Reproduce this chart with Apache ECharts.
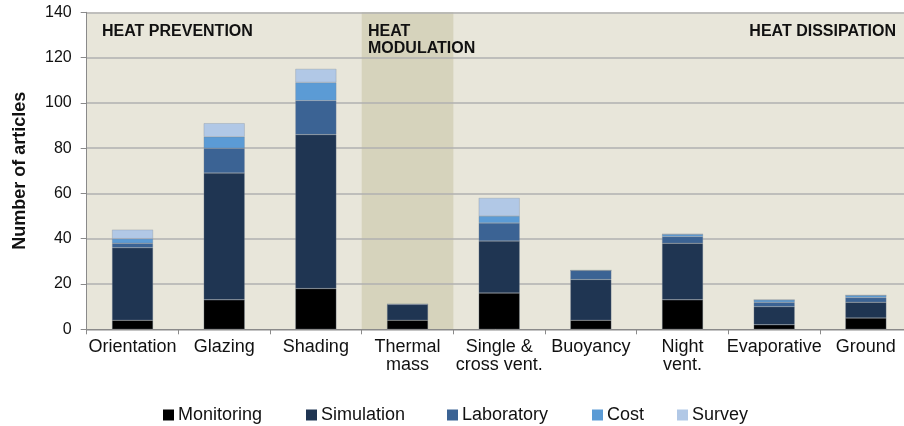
<!DOCTYPE html>
<html>
<head>
<meta charset="utf-8">
<script src="https://cdn.jsdelivr.net/npm/echarts@6/dist/echarts.min.js"></script>
<style>
html,body{margin:0;padding:0;background:#fff;}
#c{width:904px;height:426px;}
</style>
</head>
<body>
<div id="c"></div>
<script>
const categories = ['Orientation','Glazing','Shading','Thermal\nmass','Single &\ncross vent.','Buoyancy','Night\nvent.','Evaporative','Ground'];
const monitoring = [4, 13, 18, 4, 16, 4, 13, 2, 5];
const simulation = [32, 56, 68, 7, 23, 18, 25, 8, 7];
const laboratory = [2, 11, 15, 0, 8, 4, 3, 2, 2];
const cost = [2, 5, 8, 0, 3, 0, 1, 1, 1];
const survey = [4, 6, 6, 0, 8, 0, 0, 0, 0];
const yTicks = [0, 20, 40, 60, 80, 100, 120, 140];
const modulationBand = [null, null, null, 140, null, null, null, null, null];
const groupLabels = ['HEAT PREVENTION', 'HEAT\nMODULATION', 'HEAT DISSIPATION'];
const seriesNames = ['Monitoring', 'Simulation', 'Laboratory', 'Cost', 'Survey'];

const FONT = 'Arial, "Liberation Sans", sans-serif';
const colors = ['#000000', '#1f3552', '#3b6394', '#5b9bd5', '#b1c8e6'];
const seriesData = [monitoring, simulation, laboratory, cost, survey];

const chart = echarts.init(document.getElementById('c'), null, {renderer: 'canvas'});

const legendLefts = [163, 306, 447, 592, 677];
const titleStyle = {fontFamily: FONT, fontSize: 16, fontWeight: 'bold', color: '#111', lineHeight: 17};

const option = {
  backgroundColor: '#ffffff',
  animation: false,
  textStyle: {fontFamily: FONT},
  title: [
    {text: groupLabels[0], left: 102, top: 23, padding: 0, textStyle: titleStyle},
    {text: groupLabels[1], left: 368, top: 23, padding: 0, textStyle: titleStyle},
    {text: groupLabels[2], right: 8, top: 23, padding: 0, textStyle: titleStyle}
  ],
  legend: seriesNames.map((n, i) => ({
    data: [n],
    left: legendLefts[i],
    top: 406,
    padding: 0,
    itemWidth: 11,
    itemHeight: 11,
    icon: 'rect',
    selectedMode: false,
    itemStyle: {borderWidth: 0},
    textStyle: {fontFamily: FONT, fontSize: 18, color: '#111', padding: [0, 0, 0, -1]}
  })),
  grid: {
    left: 86.7, top: 12.3, width: 825, height: 317,
    outerBoundsMode: 'none', containLabel: false,
    show: true, backgroundColor: '#e8e6da', borderWidth: 0, z: 0
  },
  xAxis: [
    {
      type: 'category', data: categories, z: 3,
      axisLine: {lineStyle: {color: '#8a8a8a', width: 1}},
      axisTick: {show: true, length: 5, lineStyle: {color: '#8a8a8a'}},
      axisLabel: {fontFamily: FONT, fontSize: 18, color: '#111', lineHeight: 17.7, margin: 9, interval: 0}
    },
    {
      type: 'category', data: categories, show: false
    }
  ],
  yAxis: {
    type: 'value', min: 0, max: 140, interval: 20, z: 1.5,
    name: 'Number of articles', nameLocation: 'middle', nameGap: 58,
    nameTextStyle: {fontFamily: FONT, fontSize: 18, fontWeight: 'bold', color: '#111'},
    axisLine: {show: true, lineStyle: {color: '#8a8a8a', width: 1}},
    axisTick: {show: true, length: 6, lineStyle: {color: '#8a8a8a'}},
    axisLabel: {fontFamily: FONT, fontSize: 16, color: '#111', margin: 15,
      formatter: v => (yTicks.indexOf(v) >= 0 ? String(v) : '')},
    splitLine: {show: true, lineStyle: {color: '#b0b0b0', width: 1.5}}
  },
  series: [
    {
      type: 'bar', xAxisIndex: 1, data: modulationBand, barWidth: '100%',
      itemStyle: {color: '#d6d3bc'}, z: 1, silent: true, legendHoverLink: false
    }
  ].concat(seriesNames.map((n, i) => ({
    name: n, type: 'bar', stack: 'total', xAxisIndex: 0,
    data: seriesData[i], barWidth: 41, z: 2,
    itemStyle: {color: colors[i], borderColor: 'rgba(120,135,150,0.6)', borderWidth: 0.5}
  })))
};
chart.setOption(option);
</script>
</body>
</html>
